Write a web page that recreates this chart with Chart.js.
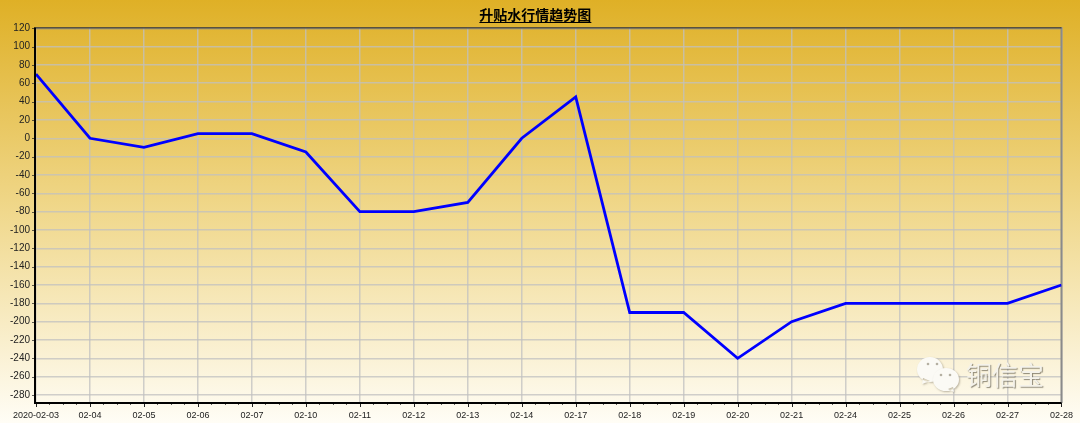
<!DOCTYPE html>
<html>
<head>
<meta charset="utf-8">
<style>
  html, body { margin: 0; padding: 0; background: #fff; }
  #wrap { width: 1080px; height: 423px; }
</style>
<script src="https://cdn.jsdelivr.net/npm/chart.js@4"></script>
</head>
<body>
<div id="wrap"><canvas id="chart" width="1080" height="423"></canvas></div>
<script>
const dates = ['2020-02-03', '02-04', '02-05', '02-06', '02-07', '02-10', '02-11', '02-12', '02-13', '02-14',
  '02-17', '02-18', '02-19', '02-20', '02-21', '02-24', '02-25', '02-26', '02-27', '02-28'];
const spread = [70, 0, -10, 5, 5, -15, -80, -80, -70, 0, 45, -190, -190, -240, -200, -180, -180, -180, -180, -160];
const yTicks = [120, 100, 80, 60, 40, 20, 0, -20, -40, -60, -80, -100, -120, -140, -160, -180, -200, -220, -240, -260, -280];
const titleText = '升贴水行情趋势图';
const markText = '铜信宝';

const uiFont = '"Liberation Sans", Arial, sans-serif';
const cjkFont = '"Noto Sans CJK SC", sans-serif';

// gradient behind everything, the plot area is see-through
const backdrop = {
  id: 'backdrop',
  beforeDraw(chart) {
    const { ctx, width, height } = chart;
    const g = ctx.createLinearGradient(0, 0, 0, height);
    g.addColorStop(0, '#dfb026');
    g.addColorStop(0.5, '#f0d88c');
    g.addColorStop(1, '#fffdf6');
    ctx.save();
    ctx.fillStyle = g;
    ctx.fillRect(0, 0, width, height);
    ctx.restore();
  }
};

// frame, minor ticks and title underline, none of which the library draws this way
const frame = {
  id: 'frame',
  beforeDatasetsDraw(chart) {
    const { ctx, chartArea: a, scales: { x, y } } = chart;
    ctx.save();
    ctx.lineWidth = 1;
    ctx.strokeStyle = 'rgba(30,30,30,0.7)';
    ctx.beginPath();
    for (let v = -285; v <= 120; v += 5) {
      const py = Math.round(y.getPixelForValue(v)) + 0.5;
      const len = v % 20 === 0 ? 4 : 2;
      ctx.moveTo(a.left - len, py);
      ctx.lineTo(a.left, py);
    }
    for (let i = 0; i < dates.length - 1; i++) {
      for (let k = 1; k < 4; k++) {
        const px = Math.round(x.getPixelForValue(i + k / 4)) + 0.5;
        ctx.moveTo(px, a.bottom);
        ctx.lineTo(px, a.bottom + 2);
      }
    }
    ctx.stroke();
    ctx.strokeStyle = '#222';
    ctx.beginPath();
    for (let i = 0; i < dates.length; i++) {
      const px = Math.round(x.getPixelForValue(i)) + 0.5;
      ctx.moveTo(px, a.bottom);
      ctx.lineTo(px, a.bottom + 4);
    }
    ctx.stroke();

    ctx.fillStyle = '#8a8a8a';
    ctx.fillRect(a.left, a.top + 1, a.width, 1);
    ctx.fillRect(a.right - 1, a.top, 2, a.height);
    ctx.fillStyle = '#2a2416';
    ctx.fillRect(a.left, a.top, a.width, 1);
    ctx.fillStyle = '#000';
    ctx.fillRect(a.left - 2, a.top, 2, a.height + 1);
    ctx.fillRect(a.left - 2, a.bottom - 1, a.width + 2, 2);
    ctx.restore();
  },
  afterDraw(chart) {
    const { ctx, titleBlock: t } = chart;
    ctx.save();
    ctx.font = 'bold 14px ' + cjkFont;
    const w = ctx.measureText(titleText).width;
    const cx = (t.left + t.right) / 2;
    ctx.fillStyle = '#000';
    ctx.fillRect(cx - w / 2, 22, w, 1);
    ctx.restore();
  }
};

// lower-right WeChat style mark and its text
const watermark = {
  id: 'watermark',
  afterDraw(chart) {
    const { ctx } = chart;
    ctx.save();
    ctx.shadowColor = 'rgba(90,80,60,0.4)';
    ctx.shadowBlur = 2;
    ctx.shadowOffsetX = 1;
    ctx.shadowOffsetY = 1;
    ctx.fillStyle = '#fbfaf5';

    ctx.beginPath();
    ctx.ellipse(930, 369.5, 13, 12.5, 0, 0, Math.PI * 2);
    ctx.moveTo(923, 378);
    ctx.lineTo(922, 384);
    ctx.lineTo(930, 381);
    ctx.fill();

    ctx.beginPath();
    ctx.ellipse(946, 379.5, 13, 11.5, 0, 0, Math.PI * 2);
    ctx.moveTo(948, 389);
    ctx.lineTo(954, 392);
    ctx.lineTo(953, 387);
    ctx.fill();

    ctx.shadowColor = 'transparent';
    ctx.fillStyle = '#b5b0a2';
    for (const [dx, dy] of [[928, 364], [937, 364], [941, 375], [950, 375]]) {
      ctx.beginPath();
      ctx.arc(dx, dy, 1.3, 0, Math.PI * 2);
      ctx.fill();
    }

    ctx.shadowColor = 'rgba(70,65,50,0.6)';
    ctx.shadowBlur = 1;
    ctx.fillStyle = '#f4f2ea';
    ctx.font = '26px ' + cjkFont;
    ctx.textAlign = 'left';
    ctx.textBaseline = 'middle';
    ctx.fillText(markText, 966, 375);
    ctx.restore();
  }
};

new Chart(document.getElementById('chart'), {
  type: 'line',
  data: {
    datasets: [{
      data: spread.map((v, i) => ({ x: i, y: v })),
      borderColor: '#0000ff',
      borderWidth: 2.8,
      pointRadius: 0,
      tension: 0
    }]
  },
  options: {
    responsive: false,
    animation: false,
    layout: { padding: { left: 9, right: 18.3, top: 0, bottom: 0 } },
    plugins: {
      legend: { display: false },
      tooltip: { enabled: false },
      title: {
        display: true,
        text: titleText,
        color: '#000',
        font: { family: cjkFont, size: 14, weight: 'bold', lineHeight: 1.2 },
        padding: { top: 6, bottom: 4.5 }
      }
    },
    scales: {
      x: {
        type: 'linear',
        min: 0,
        max: dates.length - 1,
        afterBuildTicks(scale) {
          scale.ticks = dates.map((d, i) => ({ value: i }));
        },
        afterFit(scale) { scale.height = 20; },
        border: { display: false },
        grid: { color: 'rgba(192,192,192,0.75)', lineWidth: 1.5, drawTicks: false },
        ticks: {
          autoSkip: false,
          maxRotation: 0,
          padding: 7,
          color: '#222',
          font: { family: uiFont, size: 9 },
          callback: v => dates[v]
        }
      },
      y: {
        min: -288.7,
        max: 121,
        afterBuildTicks(scale) {
          scale.ticks = yTicks.map(v => ({ value: v }));
        },
        afterFit(scale) { scale.width = 27; },
        border: { display: false },
        grid: { color: 'rgba(192,192,192,0.75)', lineWidth: 1.5, drawTicks: false },
        ticks: {
          padding: 6,
          color: '#222',
          font: { family: uiFont, size: 10 }
        }
      }
    }
  },
  plugins: [backdrop, frame, watermark]
});
</script>
</body>
</html>
